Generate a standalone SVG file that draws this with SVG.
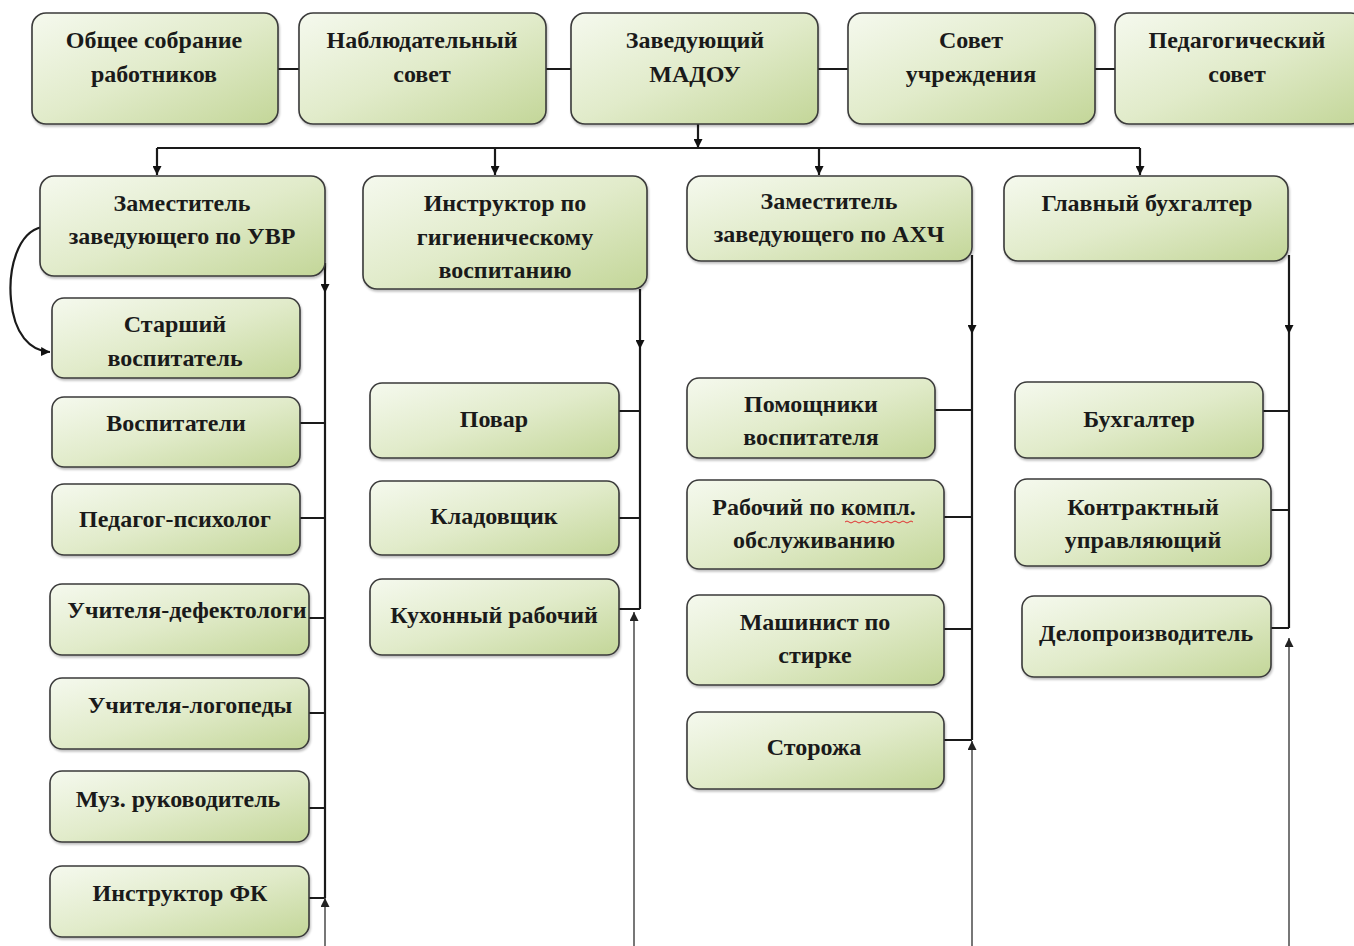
<svg xmlns="http://www.w3.org/2000/svg" width="1354" height="946" viewBox="0 0 1354 946">
<defs>
<linearGradient id="g" x1="0" y1="0" x2="1" y2="1">
<stop offset="0" stop-color="#f5f9ee"/>
<stop offset="0.5" stop-color="#e1ebca"/>
<stop offset="1" stop-color="#c3d698"/>
</linearGradient>
<filter id="sh" x="-5%" y="-5%" width="110%" height="115%">
<feDropShadow dx="1" dy="2" stdDeviation="1.2" flood-color="#000" flood-opacity="0.25"/>
</filter>
<marker id="ah" viewBox="0 0 10 10" refX="10" refY="5" markerWidth="9" markerHeight="9" markerUnits="userSpaceOnUse" orient="auto">
<path d="M0,0 L10,5 L0,10 z" fill="#111"/>
</marker>
<marker id="ahg" viewBox="0 0 10 10" refX="10" refY="5" markerWidth="9" markerHeight="9" markerUnits="userSpaceOnUse" orient="auto">
<path d="M0,0 L10,5 L0,10 z" fill="#222"/>
</marker>
</defs>
<style>
.box{fill:url(#g);stroke:#3a3a3a;stroke-width:1.6;filter:url(#sh)}
.t{font-family:"Liberation Serif","Times New Roman",serif;font-weight:bold;font-size:24px;fill:#1a1a1a;text-anchor:middle}
.c{fill:none;stroke:#1a1a1a;stroke-width:2.2}
.a{fill:none;stroke:#1a1a1a;stroke-width:2.2;marker-end:url(#ah)}
.up{fill:none;stroke:#555;stroke-width:1.6;marker-end:url(#ahg)}
</style>
<rect width="1354" height="946" fill="#fff"/>

<g id="connectors">
<path class="c" d="M278,69 H299 M546,69 H571 M818,69 H848 M1095,69 H1115"/>
<path class="a" d="M698,124 V148"/>
<path class="c" d="M157,148 H1140"/>
<path class="a" d="M157,148 V175"/>
<path class="a" d="M495,148 V175"/>
<path class="a" d="M819,148 V175"/>
<path class="a" d="M1140,148 V175"/>
<path class="a" d="M42,227 C18,232 8,268 11,300 C14,334 30,351 50,352"/>
<path class="a" d="M325,263 V293"/>
<path class="c" d="M325,293 V898"/>
<path class="c" d="M300,423 H325 M300,518 H325 M309,618 H325 M309,713 H325 M309,808 H325 M309,898 H325"/>
<path class="up" d="M325,946 V898"/>
<path class="a" d="M640,289 V349"/>
<path class="c" d="M640,349 V609"/>
<path class="c" d="M619,411 H640 M619,518 H640 M619,609 H640"/>
<path class="up" d="M634,946 V612"/>
<path class="a" d="M972,255 V334"/>
<path class="c" d="M972,334 V740"/>
<path class="c" d="M935,410 H972 M944,517 H972 M944,629 H972 M944,740 H972"/>
<path class="up" d="M972,946 V741"/>
<path class="a" d="M1289,255 V334"/>
<path class="c" d="M1289,334 V628"/>
<path class="c" d="M1263,411 H1289 M1271,510 H1289 M1271,628 H1289"/>
<path class="up" d="M1289,946 V638"/>
</g>

<g id="n-obshchee"><rect class="box" x="32" y="13" width="246" height="111" rx="14"/><text class="t" x="154" y="48">Общее собрание</text><text class="t" x="154" y="82">работников</text></g>
<g id="n-nabl"><rect class="box" x="299" y="13" width="247" height="111" rx="14"/><text class="t" x="422" y="48">Наблюдательный</text><text class="t" x="422" y="82">совет</text></g>
<g id="n-zav"><rect class="box" x="571" y="13" width="247" height="111" rx="14"/><text class="t" x="695" y="48">Заведующий</text><text class="t" x="695" y="82">МАДОУ</text></g>
<g id="n-sovet"><rect class="box" x="848" y="13" width="247" height="111" rx="14"/><text class="t" x="971" y="48">Совет</text><text class="t" x="971" y="82">учреждения</text></g>
<g id="n-ped"><rect class="box" x="1115" y="13" width="250" height="111" rx="14"/><text class="t" x="1237" y="48">Педагогический</text><text class="t" x="1237" y="82">совет</text></g>

<g id="n-uvr"><rect class="box" x="40" y="176" width="285" height="100" rx="14"/><text class="t" x="182" y="211">Заместитель</text><text class="t" x="182" y="244">заведующего по УВР</text></g>
<g id="n-gig"><rect class="box" x="363" y="176" width="284" height="113" rx="14"/><text class="t" x="505" y="211">Инструктор по</text><text class="t" x="505" y="245">гигиеническому</text><text class="t" x="505" y="278">воспитанию</text></g>
<g id="n-ahch"><rect class="box" x="687" y="176" width="285" height="85" rx="14"/><text class="t" x="829" y="209">Заместитель</text><text class="t" x="829" y="242">заведующего по АХЧ</text></g>
<g id="n-glbuh"><rect class="box" x="1004" y="176" width="284" height="85" rx="14"/><text class="t" x="1147" y="211">Главный бухгалтер</text></g>

<g id="n-starsh"><rect class="box" x="52" y="298" width="248" height="80" rx="12"/><text class="t" x="175" y="332">Старший</text><text class="t" x="175" y="366">воспитатель</text></g>
<g id="n-vosp"><rect class="box" x="52" y="397" width="248" height="70" rx="12"/><text class="t" x="176" y="431">Воспитатели</text></g>
<g id="n-psih"><rect class="box" x="52" y="484" width="248" height="71" rx="12"/><text class="t" x="175" y="527">Педагог-психолог</text></g>
<g id="n-defekt"><rect class="box" x="50" y="584" width="259" height="71" rx="12"/><text class="t" x="187" y="618">Учителя-дефектологи</text></g>
<g id="n-logo"><rect class="box" x="50" y="678" width="259" height="71" rx="12"/><text class="t" x="190" y="713">Учителя-логопеды</text></g>
<g id="n-muz"><rect class="box" x="50" y="771" width="259" height="71" rx="12"/><text class="t" x="178" y="807">Муз. руководитель</text></g>
<g id="n-fk"><rect class="box" x="50" y="866" width="259" height="71" rx="12"/><text class="t" x="180" y="901">Инструктор ФК</text></g>

<g id="n-povar"><rect class="box" x="370" y="383" width="249" height="75" rx="12"/><text class="t" x="494" y="427">Повар</text></g>
<g id="n-klad"><rect class="box" x="370" y="481" width="249" height="74" rx="12"/><text class="t" x="494" y="524">Кладовщик</text></g>
<g id="n-kuhn"><rect class="box" x="370" y="579" width="249" height="76" rx="12"/><text class="t" x="494" y="623">Кухонный рабочий</text></g>

<g id="n-pomosh"><rect class="box" x="687" y="378" width="248" height="80" rx="12"/><text class="t" x="811" y="412">Помощники</text><text class="t" x="811" y="445">воспитателя</text></g>
<g id="n-rab"><rect class="box" x="687" y="480" width="257" height="89" rx="12"/><text class="t" x="814" y="515">Рабочий по компл.</text><text class="t" x="814" y="548">обслуживанию</text><path d="M845,522 q2,-2 4,0 t4,0 t4,0 t4,0 t4,0 t4,0 t4,0 t4,0 t4,0 t4,0 t4,0 t4,0 t4,0 t4,0 t4,0 t4,0 t4,0" fill="none" stroke="#e03030" stroke-width="1"/></g>
<g id="n-mash"><rect class="box" x="687" y="595" width="257" height="90" rx="12"/><text class="t" x="815" y="630">Машинист по</text><text class="t" x="815" y="663">стирке</text></g>
<g id="n-storozh"><rect class="box" x="687" y="712" width="257" height="77" rx="12"/><text class="t" x="814" y="755">Сторожа</text></g>

<g id="n-buh"><rect class="box" x="1015" y="382" width="248" height="76" rx="12"/><text class="t" x="1139" y="427">Бухгалтер</text></g>
<g id="n-kontr"><rect class="box" x="1015" y="479" width="256" height="87" rx="12"/><text class="t" x="1143" y="515">Контрактный</text><text class="t" x="1143" y="548">управляющий</text></g>
<g id="n-delo"><rect class="box" x="1022" y="596" width="249" height="81" rx="12"/><text class="t" x="1146" y="641">Делопроизводитель</text></g>
</svg>
